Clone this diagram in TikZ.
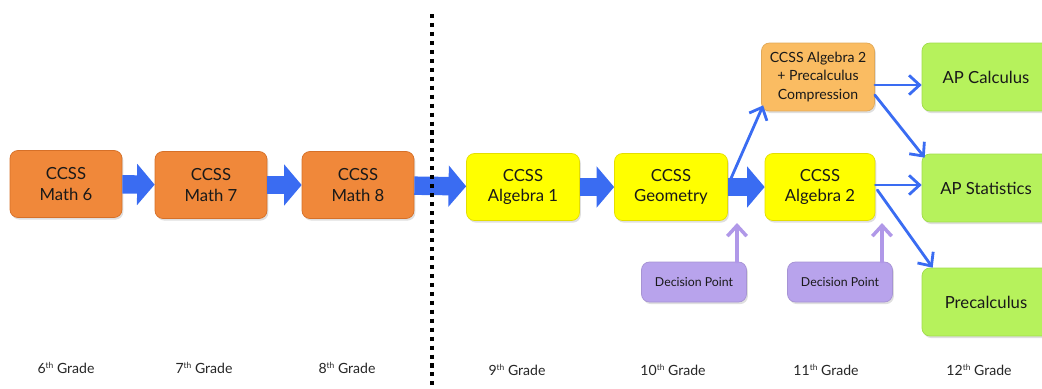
\documentclass[tikz,border=0pt]{standalone}
\usepackage{fontspec}
\setmainfont{Lato}
\usetikzlibrary{arrows.meta, calc, shadows}

\definecolor{naranja}{RGB}{240,136,58}
\definecolor{naranjaborde}{RGB}{214,112,40}
\definecolor{naranjaclaro}{RGB}{250,188,98}
\definecolor{amarillo}{RGB}{255,255,0}
\definecolor{amarilloborde}{RGB}{228,222,0}
\definecolor{verde}{RGB}{182,242,92}
\definecolor{verdeborde}{RGB}{160,220,75}
\definecolor{lila}{RGB}{184,163,236}
\definecolor{lilaflecha}{RGB}{176,152,232}
\definecolor{azul}{RGB}{58,108,242}

\newcommand{\ordinal}[1]{\raisebox{0.6ex}{\fontsize{4.8}{5}\selectfont #1}}

\begin{document}
\begin{tikzpicture}[x=0.02cm, y=-0.02cm, line join=round,
    caja/.style={rounded corners=4.5pt, align=center, inner sep=0pt,
        text=black!90, font=\fontsize{9.5}{11.5}\selectfont,
        drop shadow={opacity=0.25, shadow xshift=0.8pt, shadow yshift=-1.2pt}},
    bloque/.style={azul, line width=10.5pt, line cap=butt,
        -{Triangle[length=10pt, width=23pt]}},
    fina/.style={azul, line width=1.6pt, line cap=round,
        -{Straight Barb[length=6pt, width=11pt]}},
    decision/.style={lilaflecha, line width=2pt, line cap=round,
        -{Straight Barb[length=6pt, width=11pt]}},
    grado/.style={text=black!85, font=\fontsize{8}{9}\selectfont}]

    \clip (0,0) rectangle (1042,389);

    % Cajas de secundaria
    \node[caja, fill=naranja, draw=naranjaborde, minimum width=2.24cm, minimum height=1.34cm]
        (m6) at (66,184) {CCSS\\Math 6};
    \node[caja, fill=naranja, draw=naranjaborde, minimum width=2.24cm, minimum height=1.34cm]
        (m7) at (211,185) {CCSS\\Math 7};
    \node[caja, fill=naranja, draw=naranjaborde, minimum width=2.24cm, minimum height=1.34cm]
        (m8) at (358,185) {CCSS\\Math 8};

    % Cajas de preparatoria
    \node[caja, fill=amarillo, draw=amarilloborde, minimum width=2.26cm, minimum height=1.34cm]
        (alg1) at (523,187) {CCSS\\Algebra 1};
    \node[caja, fill=amarillo, draw=amarilloborde, minimum width=2.26cm, minimum height=1.34cm]
        (geom) at (671,187) {CCSS\\Geometry};
    \node[caja, fill=amarillo, draw=amarilloborde, minimum width=2.2cm, minimum height=1.34cm]
        (alg2) at (820,187) {CCSS\\Algebra 2};
    \node[caja, fill=naranjaclaro, draw=naranjaclaro!90!black, minimum width=2.26cm,
        minimum height=1.36cm, font=\fontsize{8}{10.5}\selectfont]
        (alg2p) at (818,77) {CCSS Algebra 2\\+ Precalculus\\Compression};

    % Cursos de 12 grado
    \node[caja, fill=verde, draw=verdeborde, minimum width=2.56cm, minimum height=1.36cm]
        (calc) at (986,77) {AP Calculus};
    \node[caja, fill=verde, draw=verdeborde, minimum width=2.56cm, minimum height=1.36cm]
        (stat) at (986,188) {AP Statistics};
    \node[caja, fill=verde, draw=verdeborde, minimum width=2.56cm, minimum height=1.36cm]
        (prec) at (986,302) {Precalculus};

    % Puntos de decision
    \node[caja, fill=lila, draw=lila!90!black, minimum width=2.1cm, minimum height=0.8cm,
        font=\fontsize{7}{8}\selectfont] (dp1) at (694,282) {Decision Point};
    \node[caja, fill=lila, draw=lila!90!black, minimum width=2.1cm, minimum height=0.8cm,
        font=\fontsize{7}{8}\selectfont] (dp2) at (840,282) {Decision Point};

    % Flechas gruesas
    \draw[bloque] (m6) -- (m7);
    \draw[bloque] (m7) -- (m8);
    \draw[bloque] (m8) -- (alg1);
    \draw[bloque] (alg1) -- (geom);
    \draw[bloque] (geom) -- (alg2);

    % Flechas delgadas
    \draw[fina] ($(geom.east)+(2,-6)$) -- ($(alg2p.south west)+(2,-6)$);
    \draw[fina] ($(alg2p.east)+(0,8)$) -- ($(calc.west)+(0,8)$);
    \draw[fina] ($(alg2p.east)+(0,18)$) -- ($(stat.north west)+(3,4)$);
    \draw[fina] ($(alg2.east)+(0,-2)$) -- ($(stat.west)+(0,-3)$);
    \draw[fina] ($(alg2.east)+(2,3)$) -- ($(prec.north west)+(11,0)$);

    % Flechas de decision
    \coordinate (d1) at (737,223);
    \coordinate (d2) at (882,223);
    \draw[decision] (dp1.north -| d1) -- (d1);
    \draw[decision] (dp2.north -| d2) -- (d2);

    % Linea punteada
    \coordinate (top) at (432,14);
    \coordinate (bot) at (432,389);
    \draw[black, line width=2.3pt, line cap=butt, dash pattern=on 2.3pt off 2.8pt] (top) -- (bot);

    % Grados
    \node[grado] (g6) at (66,368) {6\ordinal{th} Grade};
    \node[grado] (g7) at (204,368) {7\ordinal{th} Grade};
    \node[grado] (g8) at (347,368) {8\ordinal{th} Grade};
    \node[grado] (g9) at (517,370) {9\ordinal{th} Grade};
    \node[grado] (g10) at (673,370) {10\ordinal{th} Grade};
    \node[grado] (g11) at (826,370) {11\ordinal{th} Grade};
    \node[grado] (g12) at (979,370) {12\ordinal{th} Grade};

\end{tikzpicture}
\end{document}
